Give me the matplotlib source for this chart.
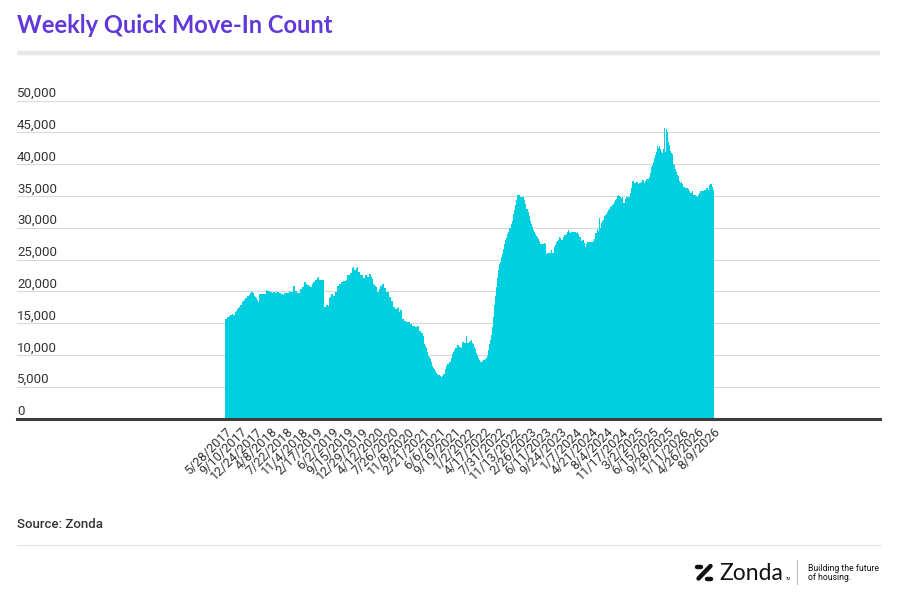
import matplotlib
matplotlib.use("Agg")
import matplotlib.pyplot as plt
from matplotlib.lines import Line2D
import numpy as np

# weekly counts, in thousands (one value per week)
weekly_k = [
    15.6, 15.7, 15.9, 16.0, 16.1, 16.3, 16.3, 16.4, 16.2, 16.2, 16.8, 16.9, 17.2, 17.3, 17.5,
    17.8, 17.9, 18.3, 18.4, 18.6, 18.9, 19.0, 19.2, 19.3, 19.4, 19.8, 19.9, 19.9, 19.8, 19.3,
    19.1, 18.9, 18.7, 18.3, 19.5, 19.5, 19.5, 19.5, 19.6, 19.6, 20.2, 20.1, 20.0, 20.0, 19.9,
    19.9, 19.8, 19.9, 19.9, 19.8, 19.9, 19.9, 19.9, 19.7, 19.7, 19.5, 19.5, 19.4, 19.7, 19.7,
    19.7, 19.7, 19.7, 20.1, 19.9, 19.9, 19.9, 20.9, 20.9, 20.0, 20.0, 19.8, 19.7, 19.7, 20.3,
    20.3, 20.6, 20.6, 21.4, 21.4, 21.2, 21.0, 21.0, 20.8, 20.6, 20.6, 21.2, 21.4, 21.4, 21.8,
    21.8, 22.1, 22.3, 21.8, 21.8, 21.8, 21.8, 21.7, 17.5, 17.8, 17.8, 17.7, 19.0, 19.1, 19.6,
    19.6, 19.3, 19.3, 19.9, 19.9, 20.8, 20.8, 21.2, 21.2, 21.4, 21.4, 21.6, 21.6, 21.6, 21.8,
    22.6, 22.6, 22.6, 22.8, 22.8, 23.7, 23.8, 23.4, 23.4, 23.7, 23.8, 23.0, 23.0, 22.5, 22.5,
    22.5, 22.1, 22.1, 22.6, 22.6, 22.3, 22.3, 22.7, 22.7, 22.2, 22.0, 21.2, 21.0, 20.8, 20.6,
    19.9, 19.9, 20.3, 20.9, 20.9, 21.1, 21.1, 20.5, 20.5, 19.9, 19.9, 19.1, 19.1, 18.4, 18.4,
    17.5, 17.5, 17.2, 17.2, 17.4, 17.4, 16.7, 17.0, 17.0, 15.7, 15.7, 15.3, 15.3, 15.1, 15.1,
    15.2, 15.2, 14.8, 14.8, 14.6, 14.6, 14.6, 14.4, 14.4, 14.6, 14.6, 13.7, 13.7, 13.4, 13.4,
    12.9, 11.7, 11.4, 11.1, 10.4, 9.9, 9.6, 9.4, 8.9, 8.2, 8.0, 7.8, 7.5, 7.2, 7.0,
    6.9, 6.8, 6.7, 6.6, 6.7, 7.0, 7.0, 7.8, 8.2, 8.5, 8.9, 8.9, 9.5, 10.2, 10.4,
    10.7, 11.1, 11.1, 11.5, 11.5, 11.3, 11.3, 11.1, 12.1, 12.1, 11.8, 11.8, 13.0, 11.9, 11.9,
    12.0, 12.2, 12.3, 11.9, 11.7, 11.3, 11.0, 10.3, 10.0, 9.5, 9.2, 8.9, 8.9, 9.1, 9.2,
    9.2, 9.3, 9.5, 9.8, 10.8, 11.7, 12.3, 13.2, 14.4, 16.0, 17.8, 19.2, 20.6, 22.1, 23.3,
    24.3, 24.6, 25.4, 25.9, 26.7, 27.5, 28.1, 28.4, 29.0, 29.3, 30.0, 30.6, 31.1, 32.1, 32.8,
    33.5, 34.3, 35.1, 35.2, 35.2, 34.9, 34.9, 34.8, 34.9, 34.4, 33.8, 33.0, 33.0, 32.4, 31.8,
    31.1, 30.6, 30.1, 29.6, 29.3, 29.0, 28.7, 28.5, 28.2, 27.9, 27.5, 27.5, 27.5, 27.5, 27.6,
    27.5, 25.9, 26.1, 26.1, 26.1, 26.0, 26.5, 26.0, 26.1, 26.9, 27.3, 27.7, 27.9, 28.1, 28.6,
    28.4, 28.0, 28.0, 28.6, 28.8, 28.8, 29.0, 29.3, 29.7, 29.3, 29.1, 29.4, 29.3, 29.3, 29.4,
    29.1, 29.3, 29.0, 28.5, 28.5, 27.9, 28.0, 28.0, 27.6, 27.0, 27.5, 27.7, 27.7, 27.7, 27.7,
    27.7, 27.7, 27.9, 28.3, 29.1, 29.1, 29.8, 29.5, 31.6, 30.0, 30.8, 31.0, 31.2, 31.8, 32.0,
    32.2, 32.4, 32.8, 33.0, 33.2, 33.4, 33.6, 33.8, 34.1, 34.3, 34.5, 35.0, 35.1, 35.0, 34.8,
    34.6, 34.9, 33.9, 33.9, 34.5, 34.8, 34.8, 34.9, 34.8, 35.5, 36.3, 37.4, 37.1, 37.1, 37.2,
    37.2, 36.8, 37.0, 37.0, 37.2, 37.5, 37.5, 37.1, 37.4, 37.7, 37.6, 37.6, 37.9, 38.6, 39.5,
    39.8, 40.4, 40.9, 41.4, 41.9, 42.8, 42.5, 42.8, 42.3, 41.9, 41.7, 42.4, 45.6, 41.9, 45.5,
    45.0, 43.4, 43.0, 42.1, 41.8, 41.6, 40.0, 39.8, 39.2, 38.7, 38.3, 38.2, 37.4, 37.0, 37.2,
    36.8, 36.4, 36.4, 36.3, 36.3, 36.3, 36.1, 35.7, 35.4, 35.4, 35.7, 35.2, 35.1, 35.0, 34.8,
    35.2, 35.5, 35.7, 35.8, 35.8, 35.8, 35.9, 35.9, 36.3, 36.3, 35.9, 36.7, 36.9, 36.9, 36.4,
    35.9,
]

# every 15th week is labelled
date_labels = [
    "5/28/2017", "9/10/2017", "12/24/2017", "4/8/2018", "7/22/2018", "11/4/2018",
    "2/17/2019", "6/2/2019", "9/15/2019", "12/29/2019", "4/12/2020", "7/26/2020",
    "11/8/2020", "2/21/2021", "6/6/2021", "9/19/2021", "1/2/2022", "4/17/2022",
    "7/31/2022", "11/13/2022", "2/26/2023", "6/11/2023", "9/24/2023", "1/7/2024",
    "4/21/2024", "8/4/2024", "11/17/2024", "3/2/2025", "6/15/2025", "9/28/2025",
    "1/11/2026", "4/26/2026", "8/9/2026",
]
label_every = 15

y_ticks = [0, 5000, 10000, 15000, 20000, 25000, 30000, 35000, 40000, 45000, 50000]

W, H = 902, 597
TEXT = "#333333"
BAR = "#00cfdf"
PURPLE = "#6139d8"

plt.rcParams['font.family'] = ['Roboto', 'DejaVu Sans']


def fx(x):
    return x / W


def fy(y):
    return 1 - y / H


fig = plt.figure(figsize=(W / 100, H / 100), dpi=100)
fig.patch.set_facecolor("white")

# plot area in pixel terms: x 17..880, value 0 at y=418.5, 50k at y=100.5
ax = fig.add_axes([fx(17), fy(418.5), fx(880) - fx(17), (418.5 - 100.5) / H])

values = np.array(weekly_k) * 1000
weeks = np.arange(len(values))
ax.bar(weeks, values, width=1.0, color=BAR, linewidth=0, zorder=2)

ax.set_ylim(0, 50000)
ax.set_xlim(-205, 644)
ax.set_yticks(y_ticks)
ax.set_yticklabels([])
ax.tick_params(axis='y', length=0)
ax.grid(axis='y', color="#d9d9d9", linewidth=0.8, zorder=0)
ax.set_axisbelow(True)

for s in ["top", "right", "left"]:
    ax.spines[s].set_visible(False)
ax.spines["bottom"].set_color("#3c3c3c")
ax.spines["bottom"].set_linewidth(2.2)
ax.spines["bottom"].set_zorder(3)

for v in y_ticks:
    ax.annotate(f"{v:,}", xy=(0, v), xycoords=ax.get_yaxis_transform(),
                xytext=(0, 2.6), textcoords="offset points",
                ha="left", va="baseline", fontsize=9.5, color=TEXT)

tick_pos = weeks[::label_every]
ax.set_xticks(tick_pos)
ax.set_xticklabels(date_labels, rotation=45, ha="right", va="top",
                   rotation_mode="anchor", fontsize=9.2, color=TEXT)
ax.tick_params(axis='x', length=0, pad=5)

# header
fig.text(fx(17), fy(33), "Weekly Quick Move-In Count", fontsize=17,
         color=PURPLE, ha="left", va="baseline", family="Lato", weight="bold")
fig.add_artist(Line2D([fx(17), fx(880)], [fy(52.5), fy(52.5)], color="#e8e8e8",
                      linewidth=3.2, solid_capstyle="butt"))

# footer
fig.text(fx(17), fy(528), "Source: Zonda", fontsize=9.5, color=TEXT,
         ha="left", va="baseline", weight="medium")
fig.add_artist(Line2D([fx(17), fx(880)], [fy(545), fy(545)], color="#e3e3e3",
                      linewidth=0.8))

# logo mark
for (x0, y0, x1, y1, lw) in [(697, 567, 701, 567, 3.2), (698.5, 578.5, 710.5, 566, 3.2),
                             (707, 578.5, 711, 578.5, 3.2)]:
    fig.add_artist(Line2D([fx(x0), fx(x1)], [fy(y0), fy(y1)], color="#111111",
                          linewidth=lw, solid_capstyle="round"))
fig.text(fx(719), fy(580), "Zonda", fontsize=16.5, color="#111111",
         ha="left", va="baseline", family="Lato")
fig.text(fx(786), fy(580), "TM", fontsize=2.5, color="#111111",
         ha="left", va="baseline")
fig.add_artist(Line2D([fx(797), fx(797)], [fy(560), fy(584)], color="#bbbbbb",
                      linewidth=0.7))
fig.text(fx(808), fy(571), "Building the future", fontsize=6.2, color="#111111",
         ha="left", va="baseline")
fig.text(fx(808), fy(580), "of housing.", fontsize=6.2, color="#111111",
         ha="left", va="baseline")

fig.savefig("out.png", dpi=100, facecolor="white")
